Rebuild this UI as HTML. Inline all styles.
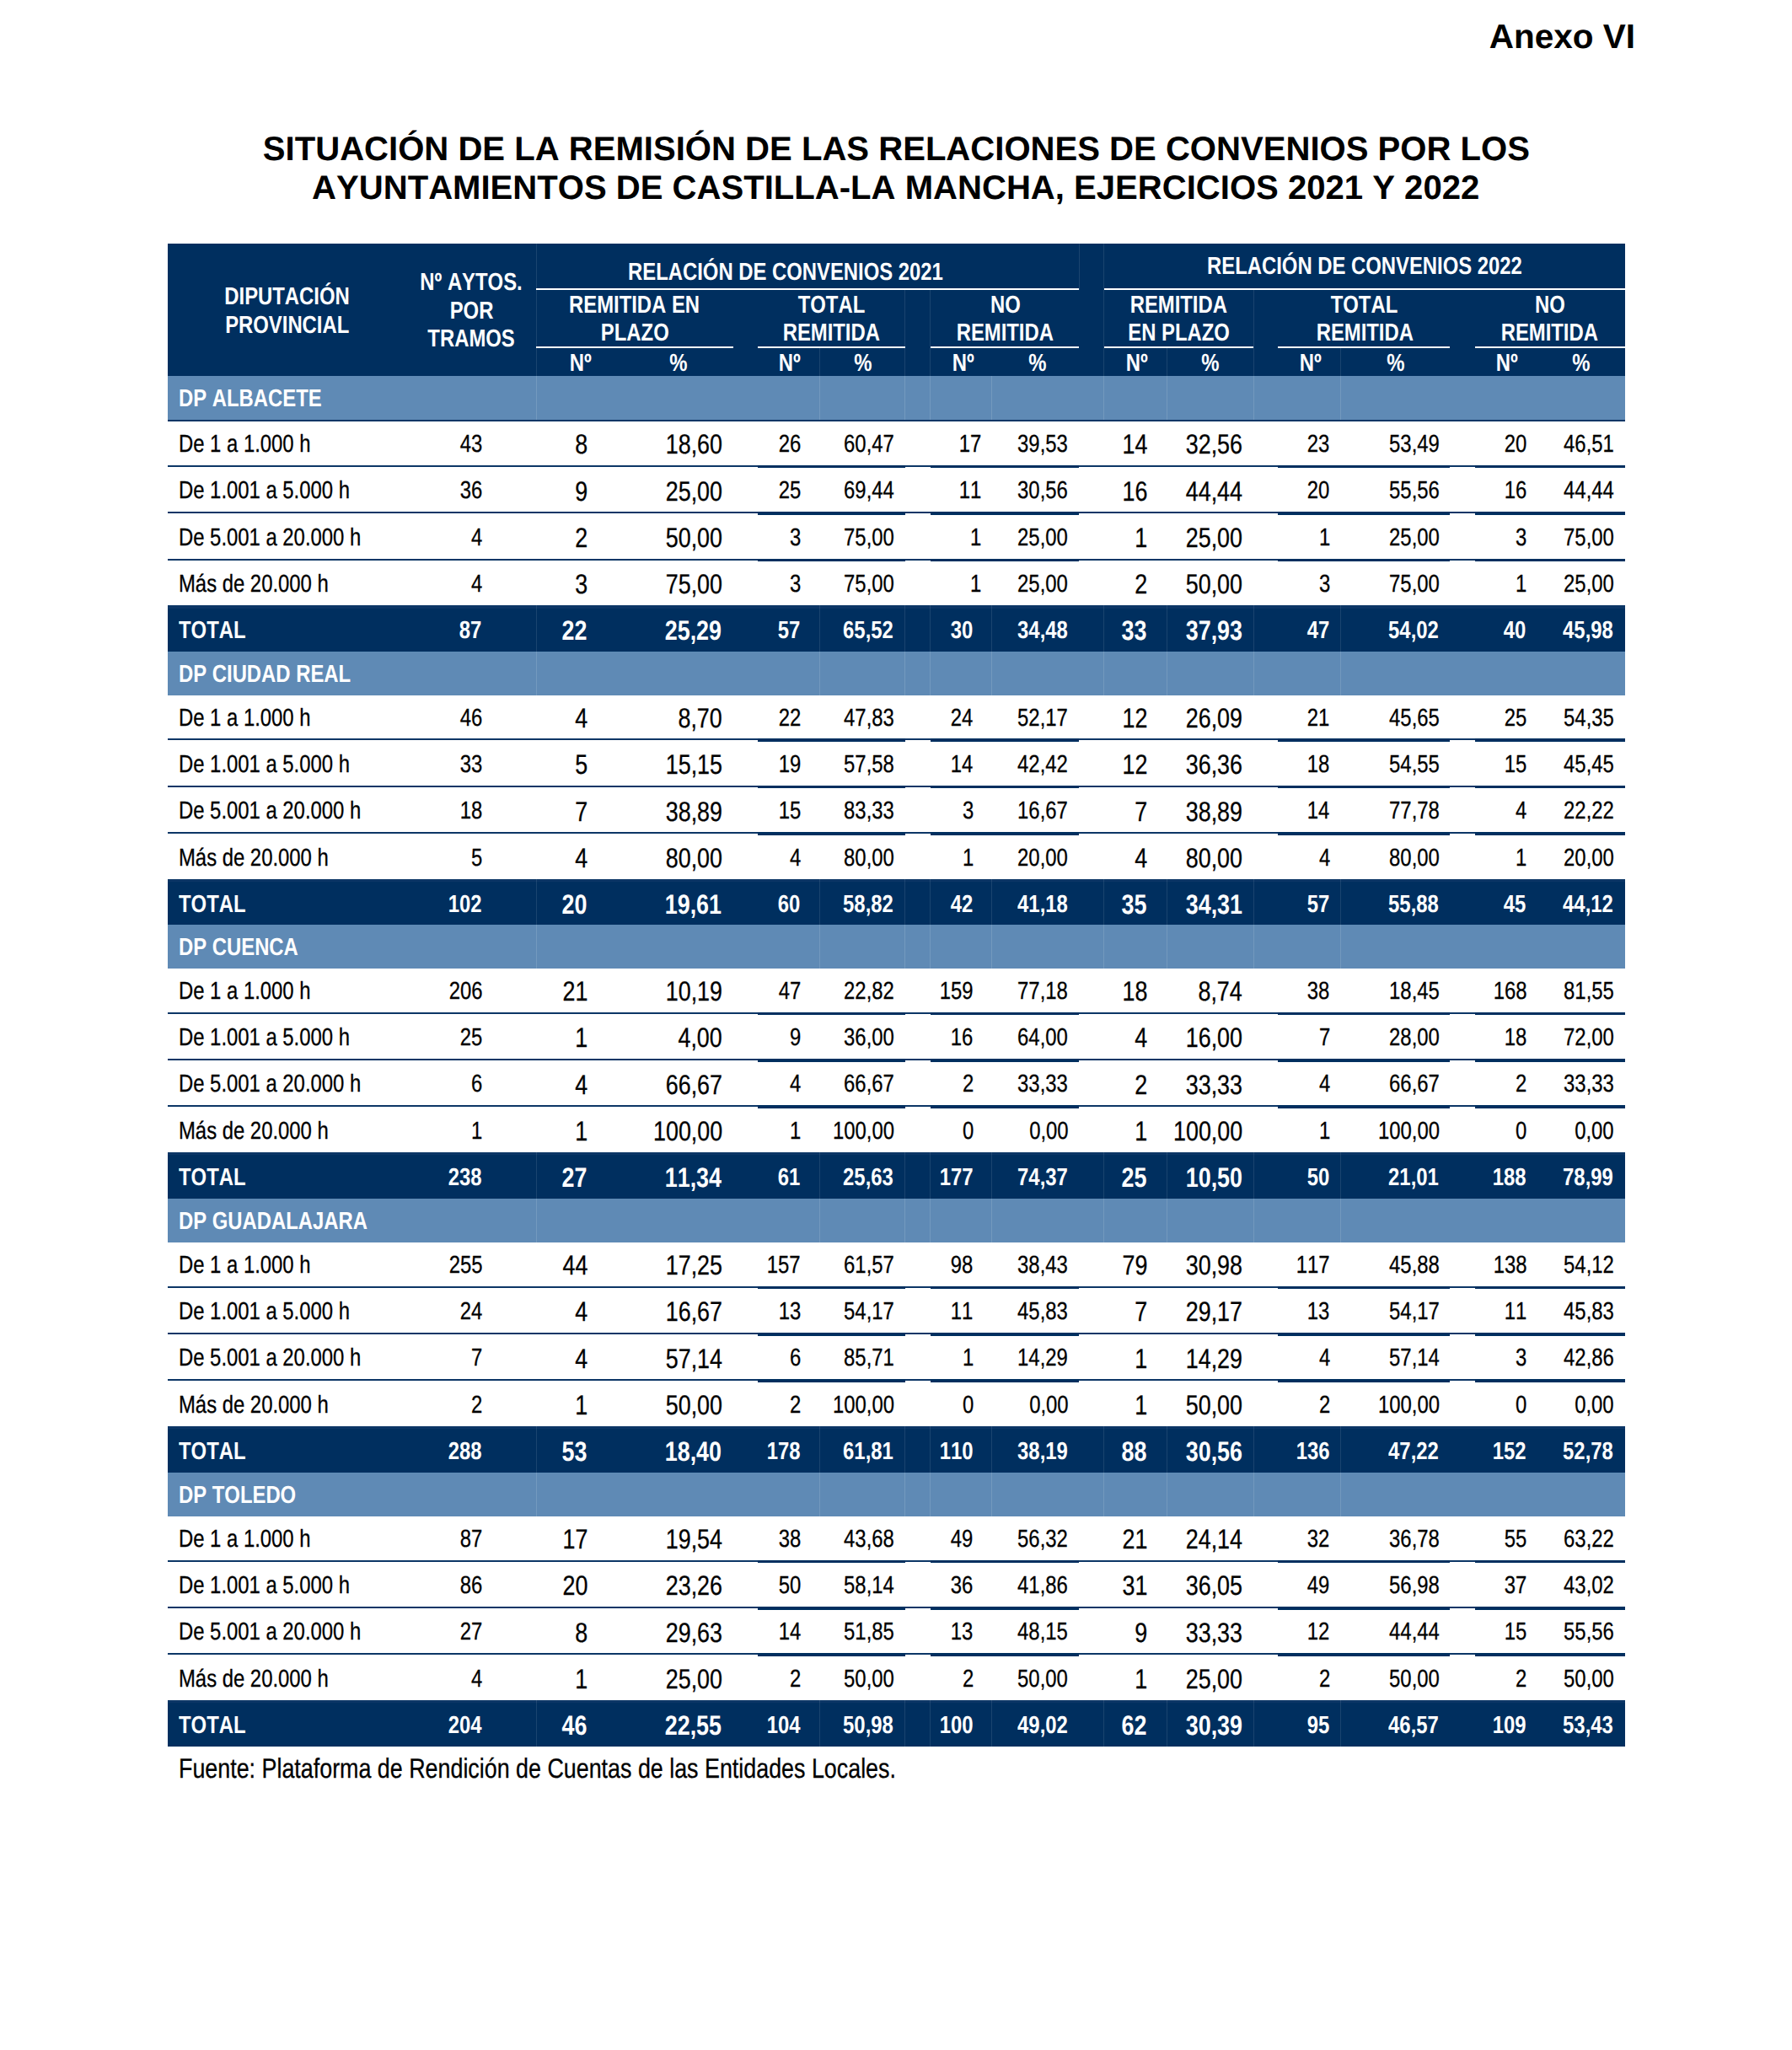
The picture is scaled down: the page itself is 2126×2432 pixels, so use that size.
<!DOCTYPE html>
<html lang="es"><head><meta charset="utf-8"><title>Anexo VI</title><style>
html,body{margin:0;padding:0;background:#fff}
body{font-kerning:none;font-feature-settings:"kern" 0,"liga" 0;text-rendering:geometricPrecision;width:2126px;height:2432px;position:relative;overflow:hidden;font-family:"Liberation Sans",sans-serif}
.r{position:absolute}
.t{position:absolute;width:0;display:flex;white-space:nowrap;line-height:1}
.t span{display:block;flex:none}
.al{justify-content:flex-start}.al span{transform-origin:0 50%}
.ar{justify-content:flex-end}.ar span{transform-origin:100% 50%}
.ac{justify-content:center}.ac span{transform-origin:50% 50%}
.b{font-weight:bold}
.n{-webkit-text-stroke:.3px #000}
</style></head><body>
<div class="t al b" style="left:1766.80px;top:23.12px;font-size:40.5px;color:#000;"><span>Anexo VI</span></div>
<div class="t ac b" style="left:1063.40px;top:157.46px;font-size:40.1px;color:#000;"><span>SITUACIÓN DE LA REMISIÓN DE LAS RELACIONES DE CONVENIOS POR LOS</span></div>
<div class="t ac b" style="left:1062.70px;top:202.96px;font-size:40.1px;color:#000;"><span>AYUNTAMIENTOS DE CASTILLA-LA MANCHA, EJERCICIOS 2021 Y 2022</span></div>
<div class="r" style="left:199.00px;top:289.20px;width:1729.00px;height:156.80px;background:#002f5f;"></div>
<div class="r" style="left:636.40px;top:342.30px;width:644.00px;height:2.00px;background:#fff;"></div>
<div class="r" style="left:1309.60px;top:342.30px;width:618.40px;height:2.00px;background:#fff;"></div>
<div class="r" style="left:636.40px;top:411.40px;width:233.60px;height:2.00px;background:#fff;"></div>
<div class="r" style="left:899.30px;top:411.40px;width:174.40px;height:2.00px;background:#fff;"></div>
<div class="r" style="left:1103.90px;top:411.40px;width:176.50px;height:2.00px;background:#fff;"></div>
<div class="r" style="left:1309.60px;top:411.40px;width:177.70px;height:2.00px;background:#fff;"></div>
<div class="r" style="left:1516.30px;top:411.40px;width:204.20px;height:2.00px;background:#fff;"></div>
<div class="r" style="left:1750.40px;top:411.40px;width:177.60px;height:2.00px;background:#fff;"></div>
<div class="t ac b" style="left:340.30px;top:338.42px;font-size:29.1px;color:#fff;"><span style="transform:scaleX(0.82)">DIPUTACIÓN</span></div>
<div class="t ac b" style="left:340.90px;top:371.72px;font-size:29.1px;color:#fff;"><span style="transform:scaleX(0.82)">PROVINCIAL</span></div>
<div class="t ac b" style="left:559.40px;top:321.42px;font-size:29.1px;color:#fff;"><span style="transform:scaleX(0.82)">Nº AYTOS.</span></div>
<div class="t ac b" style="left:559.50px;top:354.92px;font-size:29.1px;color:#fff;"><span style="transform:scaleX(0.82)">POR</span></div>
<div class="t ac b" style="left:558.90px;top:388.12px;font-size:29.1px;color:#fff;"><span style="transform:scaleX(0.82)">TRAMOS</span></div>
<div class="t ac b" style="left:931.70px;top:308.62px;font-size:29.1px;color:#fff;"><span style="transform:scaleX(0.82)">RELACIÓN DE CONVENIOS 2021</span></div>
<div class="t ac b" style="left:1618.50px;top:302.22px;font-size:29.1px;color:#fff;"><span style="transform:scaleX(0.82)">RELACIÓN DE CONVENIOS 2022</span></div>
<div class="t ac b" style="left:752.70px;top:347.92px;font-size:29.1px;color:#fff;"><span style="transform:scaleX(0.82)">REMITIDA EN</span></div>
<div class="t ac b" style="left:753.40px;top:381.42px;font-size:29.1px;color:#fff;"><span style="transform:scaleX(0.82)">PLAZO</span></div>
<div class="t ac b" style="left:986.70px;top:347.92px;font-size:29.1px;color:#fff;"><span style="transform:scaleX(0.82)">TOTAL</span></div>
<div class="t ac b" style="left:986.50px;top:381.42px;font-size:29.1px;color:#fff;"><span style="transform:scaleX(0.82)">REMITIDA</span></div>
<div class="t ac b" style="left:1192.40px;top:347.92px;font-size:29.1px;color:#fff;"><span style="transform:scaleX(0.82)">NO</span></div>
<div class="t ac b" style="left:1192.60px;top:381.42px;font-size:29.1px;color:#fff;"><span style="transform:scaleX(0.82)">REMITIDA</span></div>
<div class="t ac b" style="left:1398.20px;top:347.92px;font-size:29.1px;color:#fff;"><span style="transform:scaleX(0.82)">REMITIDA</span></div>
<div class="t ac b" style="left:1398.90px;top:381.42px;font-size:29.1px;color:#fff;"><span style="transform:scaleX(0.82)">EN PLAZO</span></div>
<div class="t ac b" style="left:1618.90px;top:347.92px;font-size:29.1px;color:#fff;"><span style="transform:scaleX(0.82)">TOTAL</span></div>
<div class="t ac b" style="left:1618.90px;top:381.42px;font-size:29.1px;color:#fff;"><span style="transform:scaleX(0.82)">REMITIDA</span></div>
<div class="t ac b" style="left:1838.70px;top:347.92px;font-size:29.1px;color:#fff;"><span style="transform:scaleX(0.82)">NO</span></div>
<div class="t ac b" style="left:1838.50px;top:381.42px;font-size:29.1px;color:#fff;"><span style="transform:scaleX(0.82)">REMITIDA</span></div>
<div class="t ac b" style="left:689.00px;top:416.62px;font-size:29.1px;color:#fff;"><span style="transform:scaleX(0.82)">Nº</span></div>
<div class="t ac b" style="left:937.00px;top:416.62px;font-size:29.1px;color:#fff;"><span style="transform:scaleX(0.82)">Nº</span></div>
<div class="t ac b" style="left:1142.80px;top:416.62px;font-size:29.1px;color:#fff;"><span style="transform:scaleX(0.82)">Nº</span></div>
<div class="t ac b" style="left:1348.40px;top:416.62px;font-size:29.1px;color:#fff;"><span style="transform:scaleX(0.82)">Nº</span></div>
<div class="t ac b" style="left:1554.50px;top:416.62px;font-size:29.1px;color:#fff;"><span style="transform:scaleX(0.82)">Nº</span></div>
<div class="t ac b" style="left:1787.70px;top:416.62px;font-size:29.1px;color:#fff;"><span style="transform:scaleX(0.82)">Nº</span></div>
<div class="t ac b" style="left:805.20px;top:416.62px;font-size:29.1px;color:#fff;"><span style="transform:scaleX(0.82)">%</span></div>
<div class="t ac b" style="left:1023.50px;top:416.62px;font-size:29.1px;color:#fff;"><span style="transform:scaleX(0.82)">%</span></div>
<div class="t ac b" style="left:1230.50px;top:416.62px;font-size:29.1px;color:#fff;"><span style="transform:scaleX(0.82)">%</span></div>
<div class="t ac b" style="left:1436.20px;top:416.62px;font-size:29.1px;color:#fff;"><span style="transform:scaleX(0.82)">%</span></div>
<div class="t ac b" style="left:1655.50px;top:416.62px;font-size:29.1px;color:#fff;"><span style="transform:scaleX(0.82)">%</span></div>
<div class="t ac b" style="left:1875.50px;top:416.62px;font-size:29.1px;color:#fff;"><span style="transform:scaleX(0.82)">%</span></div>
<div class="r" style="left:199.00px;top:446.00px;width:1729.00px;height:51.80px;background:#5f8ab5;"></div>
<div class="r" style="left:199.00px;top:498.20px;width:1729.00px;height:2.10px;background:#0c3666;"></div>
<div class="t al b" style="left:211.60px;top:459.22px;font-size:29.1px;color:#fff;"><span style="transform:scaleX(0.82)">DP ALBACETE</span></div>
<div class="t al n" style="left:211.60px;top:512.92px;font-size:29.1px;color:#000;"><span style="transform:scaleX(0.82)">De 1 a 1.000 h</span></div>
<div class="t ar n" style="left:572.40px;top:512.92px;font-size:29.1px;color:#000;"><span style="transform:scaleX(0.82)">43</span></div>
<div class="t ar n" style="left:697.32px;top:511.13px;font-size:32.75px;color:#000;"><span style="transform:scaleX(0.82)">8</span></div>
<div class="t ar n" style="left:856.72px;top:511.13px;font-size:32.75px;color:#000;"><span style="transform:scaleX(0.82)">18,60</span></div>
<div class="t ar n" style="left:949.90px;top:512.92px;font-size:29.1px;color:#000;"><span style="transform:scaleX(0.82)">26</span></div>
<div class="t ar n" style="left:1060.80px;top:512.92px;font-size:29.1px;color:#000;"><span style="transform:scaleX(0.82)">60,47</span></div>
<div class="t ar n" style="left:1164.20px;top:512.92px;font-size:29.1px;color:#000;"><span style="transform:scaleX(0.82)">17</span></div>
<div class="t ar n" style="left:1267.20px;top:512.92px;font-size:29.1px;color:#000;"><span style="transform:scaleX(0.82)">39,53</span></div>
<div class="t ar n" style="left:1361.42px;top:511.13px;font-size:32.75px;color:#000;"><span style="transform:scaleX(0.82)">14</span></div>
<div class="t ar n" style="left:1474.12px;top:511.13px;font-size:32.75px;color:#000;"><span style="transform:scaleX(0.82)">32,56</span></div>
<div class="t ar n" style="left:1577.80px;top:512.92px;font-size:29.1px;color:#000;"><span style="transform:scaleX(0.82)">23</span></div>
<div class="t ar n" style="left:1707.60px;top:512.92px;font-size:29.1px;color:#000;"><span style="transform:scaleX(0.82)">53,49</span></div>
<div class="t ar n" style="left:1811.40px;top:512.92px;font-size:29.1px;color:#000;"><span style="transform:scaleX(0.82)">20</span></div>
<div class="t ar n" style="left:1914.40px;top:512.92px;font-size:29.1px;color:#000;"><span style="transform:scaleX(0.82)">46,51</span></div>
<div class="r" style="left:199.00px;top:551.80px;width:1729.00px;height:2.10px;background:#0c3666;"></div>
<div class="r" style="left:899.30px;top:551.80px;width:174.40px;height:3.70px;background:#002f5f;"></div>
<div class="r" style="left:1103.90px;top:551.80px;width:176.50px;height:3.70px;background:#002f5f;"></div>
<div class="r" style="left:1516.30px;top:551.80px;width:204.20px;height:3.70px;background:#002f5f;"></div>
<div class="r" style="left:1750.40px;top:551.80px;width:177.60px;height:3.70px;background:#002f5f;"></div>
<div class="t al n" style="left:211.60px;top:568.32px;font-size:29.1px;color:#000;"><span style="transform:scaleX(0.82)">De 1.001 a 5.000 h</span></div>
<div class="t ar n" style="left:572.40px;top:568.32px;font-size:29.1px;color:#000;"><span style="transform:scaleX(0.82)">36</span></div>
<div class="t ar n" style="left:697.32px;top:566.53px;font-size:32.75px;color:#000;"><span style="transform:scaleX(0.82)">9</span></div>
<div class="t ar n" style="left:856.72px;top:566.53px;font-size:32.75px;color:#000;"><span style="transform:scaleX(0.82)">25,00</span></div>
<div class="t ar n" style="left:949.90px;top:568.32px;font-size:29.1px;color:#000;"><span style="transform:scaleX(0.82)">25</span></div>
<div class="t ar n" style="left:1060.80px;top:568.32px;font-size:29.1px;color:#000;"><span style="transform:scaleX(0.82)">69,44</span></div>
<div class="t ar n" style="left:1164.20px;top:568.32px;font-size:29.1px;color:#000;"><span style="transform:scaleX(0.82)">11</span></div>
<div class="t ar n" style="left:1267.20px;top:568.32px;font-size:29.1px;color:#000;"><span style="transform:scaleX(0.82)">30,56</span></div>
<div class="t ar n" style="left:1361.42px;top:566.53px;font-size:32.75px;color:#000;"><span style="transform:scaleX(0.82)">16</span></div>
<div class="t ar n" style="left:1474.12px;top:566.53px;font-size:32.75px;color:#000;"><span style="transform:scaleX(0.82)">44,44</span></div>
<div class="t ar n" style="left:1577.80px;top:568.32px;font-size:29.1px;color:#000;"><span style="transform:scaleX(0.82)">20</span></div>
<div class="t ar n" style="left:1707.60px;top:568.32px;font-size:29.1px;color:#000;"><span style="transform:scaleX(0.82)">55,56</span></div>
<div class="t ar n" style="left:1811.40px;top:568.32px;font-size:29.1px;color:#000;"><span style="transform:scaleX(0.82)">16</span></div>
<div class="t ar n" style="left:1914.40px;top:568.32px;font-size:29.1px;color:#000;"><span style="transform:scaleX(0.82)">44,44</span></div>
<div class="r" style="left:199.00px;top:607.20px;width:1729.00px;height:2.10px;background:#0c3666;"></div>
<div class="r" style="left:899.30px;top:607.20px;width:174.40px;height:3.70px;background:#002f5f;"></div>
<div class="r" style="left:1103.90px;top:607.20px;width:176.50px;height:3.70px;background:#002f5f;"></div>
<div class="r" style="left:1516.30px;top:607.20px;width:204.20px;height:3.70px;background:#002f5f;"></div>
<div class="r" style="left:1750.40px;top:607.20px;width:177.60px;height:3.70px;background:#002f5f;"></div>
<div class="t al n" style="left:211.60px;top:623.72px;font-size:29.1px;color:#000;"><span style="transform:scaleX(0.82)">De 5.001 a 20.000 h</span></div>
<div class="t ar n" style="left:572.40px;top:623.72px;font-size:29.1px;color:#000;"><span style="transform:scaleX(0.82)">4</span></div>
<div class="t ar n" style="left:697.32px;top:621.93px;font-size:32.75px;color:#000;"><span style="transform:scaleX(0.82)">2</span></div>
<div class="t ar n" style="left:856.72px;top:621.93px;font-size:32.75px;color:#000;"><span style="transform:scaleX(0.82)">50,00</span></div>
<div class="t ar n" style="left:949.90px;top:623.72px;font-size:29.1px;color:#000;"><span style="transform:scaleX(0.82)">3</span></div>
<div class="t ar n" style="left:1060.80px;top:623.72px;font-size:29.1px;color:#000;"><span style="transform:scaleX(0.82)">75,00</span></div>
<div class="t ar n" style="left:1164.20px;top:623.72px;font-size:29.1px;color:#000;"><span style="transform:scaleX(0.82)">1</span></div>
<div class="t ar n" style="left:1267.20px;top:623.72px;font-size:29.1px;color:#000;"><span style="transform:scaleX(0.82)">25,00</span></div>
<div class="t ar n" style="left:1361.42px;top:621.93px;font-size:32.75px;color:#000;"><span style="transform:scaleX(0.82)">1</span></div>
<div class="t ar n" style="left:1474.12px;top:621.93px;font-size:32.75px;color:#000;"><span style="transform:scaleX(0.82)">25,00</span></div>
<div class="t ar n" style="left:1577.80px;top:623.72px;font-size:29.1px;color:#000;"><span style="transform:scaleX(0.82)">1</span></div>
<div class="t ar n" style="left:1707.60px;top:623.72px;font-size:29.1px;color:#000;"><span style="transform:scaleX(0.82)">25,00</span></div>
<div class="t ar n" style="left:1811.40px;top:623.72px;font-size:29.1px;color:#000;"><span style="transform:scaleX(0.82)">3</span></div>
<div class="t ar n" style="left:1914.40px;top:623.72px;font-size:29.1px;color:#000;"><span style="transform:scaleX(0.82)">75,00</span></div>
<div class="r" style="left:199.00px;top:662.60px;width:1729.00px;height:2.10px;background:#0c3666;"></div>
<div class="r" style="left:899.30px;top:662.60px;width:174.40px;height:3.70px;background:#002f5f;"></div>
<div class="r" style="left:1103.90px;top:662.60px;width:176.50px;height:3.70px;background:#002f5f;"></div>
<div class="r" style="left:1516.30px;top:662.60px;width:204.20px;height:3.70px;background:#002f5f;"></div>
<div class="r" style="left:1750.40px;top:662.60px;width:177.60px;height:3.70px;background:#002f5f;"></div>
<div class="t al n" style="left:211.60px;top:679.12px;font-size:29.1px;color:#000;"><span style="transform:scaleX(0.82)">Más de 20.000 h</span></div>
<div class="t ar n" style="left:572.40px;top:679.12px;font-size:29.1px;color:#000;"><span style="transform:scaleX(0.82)">4</span></div>
<div class="t ar n" style="left:697.32px;top:677.33px;font-size:32.75px;color:#000;"><span style="transform:scaleX(0.82)">3</span></div>
<div class="t ar n" style="left:856.72px;top:677.33px;font-size:32.75px;color:#000;"><span style="transform:scaleX(0.82)">75,00</span></div>
<div class="t ar n" style="left:949.90px;top:679.12px;font-size:29.1px;color:#000;"><span style="transform:scaleX(0.82)">3</span></div>
<div class="t ar n" style="left:1060.80px;top:679.12px;font-size:29.1px;color:#000;"><span style="transform:scaleX(0.82)">75,00</span></div>
<div class="t ar n" style="left:1164.20px;top:679.12px;font-size:29.1px;color:#000;"><span style="transform:scaleX(0.82)">1</span></div>
<div class="t ar n" style="left:1267.20px;top:679.12px;font-size:29.1px;color:#000;"><span style="transform:scaleX(0.82)">25,00</span></div>
<div class="t ar n" style="left:1361.42px;top:677.33px;font-size:32.75px;color:#000;"><span style="transform:scaleX(0.82)">2</span></div>
<div class="t ar n" style="left:1474.12px;top:677.33px;font-size:32.75px;color:#000;"><span style="transform:scaleX(0.82)">50,00</span></div>
<div class="t ar n" style="left:1577.80px;top:679.12px;font-size:29.1px;color:#000;"><span style="transform:scaleX(0.82)">3</span></div>
<div class="t ar n" style="left:1707.60px;top:679.12px;font-size:29.1px;color:#000;"><span style="transform:scaleX(0.82)">75,00</span></div>
<div class="t ar n" style="left:1811.40px;top:679.12px;font-size:29.1px;color:#000;"><span style="transform:scaleX(0.82)">1</span></div>
<div class="t ar n" style="left:1914.40px;top:679.12px;font-size:29.1px;color:#000;"><span style="transform:scaleX(0.82)">25,00</span></div>
<div class="r" style="left:199.00px;top:718.00px;width:1729.00px;height:54.90px;background:#002f5f;"></div>
<div class="r" style="left:199.00px;top:718.00px;width:1729.00px;height:3.50px;background:#0c3666;"></div>
<div class="t al b" style="left:211.60px;top:734.22px;font-size:29.1px;color:#fff;"><span style="transform:scaleX(0.82)">TOTAL</span></div>
<div class="t ar b" style="left:571.80px;top:734.22px;font-size:29.1px;color:#fff;"><span style="transform:scaleX(0.82)">87</span></div>
<div class="t ar b" style="left:696.70px;top:732.33px;font-size:32.75px;color:#fff;"><span style="transform:scaleX(0.82)">22</span></div>
<div class="t ar b" style="left:856.10px;top:732.33px;font-size:32.75px;color:#fff;"><span style="transform:scaleX(0.82)">25,29</span></div>
<div class="t ar b" style="left:949.30px;top:734.22px;font-size:29.1px;color:#fff;"><span style="transform:scaleX(0.82)">57</span></div>
<div class="t ar b" style="left:1060.20px;top:734.22px;font-size:29.1px;color:#fff;"><span style="transform:scaleX(0.82)">65,52</span></div>
<div class="t ar b" style="left:1154.20px;top:734.22px;font-size:29.1px;color:#fff;"><span style="transform:scaleX(0.82)">30</span></div>
<div class="t ar b" style="left:1266.60px;top:734.22px;font-size:29.1px;color:#fff;"><span style="transform:scaleX(0.82)">34,48</span></div>
<div class="t ar b" style="left:1360.80px;top:732.33px;font-size:32.75px;color:#fff;"><span style="transform:scaleX(0.82)">33</span></div>
<div class="t ar b" style="left:1473.50px;top:732.33px;font-size:32.75px;color:#fff;"><span style="transform:scaleX(0.82)">37,93</span></div>
<div class="t ar b" style="left:1577.20px;top:734.22px;font-size:29.1px;color:#fff;"><span style="transform:scaleX(0.82)">47</span></div>
<div class="t ar b" style="left:1707.00px;top:734.22px;font-size:29.1px;color:#fff;"><span style="transform:scaleX(0.82)">54,02</span></div>
<div class="t ar b" style="left:1810.80px;top:734.22px;font-size:29.1px;color:#fff;"><span style="transform:scaleX(0.82)">40</span></div>
<div class="t ar b" style="left:1913.80px;top:734.22px;font-size:29.1px;color:#fff;"><span style="transform:scaleX(0.82)">45,98</span></div>
<div class="r" style="left:635.90px;top:446.00px;width:1.00px;height:51.80px;background:rgba(255,255,255,.13);"></div>
<div class="r" style="left:635.90px;top:718.00px;width:1.00px;height:54.90px;background:rgba(255,255,255,.10);"></div>
<div class="r" style="left:971.90px;top:446.00px;width:1.00px;height:51.80px;background:rgba(255,255,255,.13);"></div>
<div class="r" style="left:971.90px;top:718.00px;width:1.00px;height:54.90px;background:rgba(255,255,255,.10);"></div>
<div class="r" style="left:1073.20px;top:446.00px;width:1.00px;height:51.80px;background:rgba(255,255,255,.13);"></div>
<div class="r" style="left:1073.20px;top:718.00px;width:1.00px;height:54.90px;background:rgba(255,255,255,.10);"></div>
<div class="r" style="left:1103.40px;top:446.00px;width:1.00px;height:51.80px;background:rgba(255,255,255,.13);"></div>
<div class="r" style="left:1103.40px;top:718.00px;width:1.00px;height:54.90px;background:rgba(255,255,255,.10);"></div>
<div class="r" style="left:1176.30px;top:446.00px;width:1.00px;height:51.80px;background:rgba(255,255,255,.13);"></div>
<div class="r" style="left:1176.30px;top:718.00px;width:1.00px;height:54.90px;background:rgba(255,255,255,.10);"></div>
<div class="r" style="left:1309.10px;top:446.00px;width:1.00px;height:51.80px;background:rgba(255,255,255,.13);"></div>
<div class="r" style="left:1309.10px;top:718.00px;width:1.00px;height:54.90px;background:rgba(255,255,255,.10);"></div>
<div class="r" style="left:1383.80px;top:446.00px;width:1.00px;height:51.80px;background:rgba(255,255,255,.13);"></div>
<div class="r" style="left:1383.80px;top:718.00px;width:1.00px;height:54.90px;background:rgba(255,255,255,.10);"></div>
<div class="r" style="left:1487.10px;top:446.00px;width:1.00px;height:51.80px;background:rgba(255,255,255,.13);"></div>
<div class="r" style="left:1487.10px;top:718.00px;width:1.00px;height:54.90px;background:rgba(255,255,255,.10);"></div>
<div class="r" style="left:1590.40px;top:446.00px;width:1.00px;height:51.80px;background:rgba(255,255,255,.13);"></div>
<div class="r" style="left:1590.40px;top:718.00px;width:1.00px;height:54.90px;background:rgba(255,255,255,.10);"></div>
<div class="r" style="left:199.00px;top:772.90px;width:1729.00px;height:51.80px;background:#5f8ab5;"></div>
<div class="t al b" style="left:211.60px;top:786.12px;font-size:29.1px;color:#fff;"><span style="transform:scaleX(0.82)">DP CIUDAD REAL</span></div>
<div class="t al n" style="left:211.60px;top:837.52px;font-size:29.1px;color:#000;"><span style="transform:scaleX(0.82)">De 1 a 1.000 h</span></div>
<div class="t ar n" style="left:572.40px;top:837.52px;font-size:29.1px;color:#000;"><span style="transform:scaleX(0.82)">46</span></div>
<div class="t ar n" style="left:697.32px;top:835.73px;font-size:32.75px;color:#000;"><span style="transform:scaleX(0.82)">4</span></div>
<div class="t ar n" style="left:856.72px;top:835.73px;font-size:32.75px;color:#000;"><span style="transform:scaleX(0.82)">8,70</span></div>
<div class="t ar n" style="left:949.90px;top:837.52px;font-size:29.1px;color:#000;"><span style="transform:scaleX(0.82)">22</span></div>
<div class="t ar n" style="left:1060.80px;top:837.52px;font-size:29.1px;color:#000;"><span style="transform:scaleX(0.82)">47,83</span></div>
<div class="t ar n" style="left:1154.80px;top:837.52px;font-size:29.1px;color:#000;"><span style="transform:scaleX(0.82)">24</span></div>
<div class="t ar n" style="left:1267.20px;top:837.52px;font-size:29.1px;color:#000;"><span style="transform:scaleX(0.82)">52,17</span></div>
<div class="t ar n" style="left:1361.42px;top:835.73px;font-size:32.75px;color:#000;"><span style="transform:scaleX(0.82)">12</span></div>
<div class="t ar n" style="left:1474.12px;top:835.73px;font-size:32.75px;color:#000;"><span style="transform:scaleX(0.82)">26,09</span></div>
<div class="t ar n" style="left:1577.80px;top:837.52px;font-size:29.1px;color:#000;"><span style="transform:scaleX(0.82)">21</span></div>
<div class="t ar n" style="left:1707.60px;top:837.52px;font-size:29.1px;color:#000;"><span style="transform:scaleX(0.82)">45,65</span></div>
<div class="t ar n" style="left:1811.40px;top:837.52px;font-size:29.1px;color:#000;"><span style="transform:scaleX(0.82)">25</span></div>
<div class="t ar n" style="left:1914.40px;top:837.52px;font-size:29.1px;color:#000;"><span style="transform:scaleX(0.82)">54,35</span></div>
<div class="r" style="left:199.00px;top:876.40px;width:1729.00px;height:2.10px;background:#0c3666;"></div>
<div class="r" style="left:899.30px;top:876.40px;width:174.40px;height:3.70px;background:#002f5f;"></div>
<div class="r" style="left:1103.90px;top:876.40px;width:176.50px;height:3.70px;background:#002f5f;"></div>
<div class="r" style="left:1516.30px;top:876.40px;width:204.20px;height:3.70px;background:#002f5f;"></div>
<div class="r" style="left:1750.40px;top:876.40px;width:177.60px;height:3.70px;background:#002f5f;"></div>
<div class="t al n" style="left:211.60px;top:892.92px;font-size:29.1px;color:#000;"><span style="transform:scaleX(0.82)">De 1.001 a 5.000 h</span></div>
<div class="t ar n" style="left:572.40px;top:892.92px;font-size:29.1px;color:#000;"><span style="transform:scaleX(0.82)">33</span></div>
<div class="t ar n" style="left:697.32px;top:891.13px;font-size:32.75px;color:#000;"><span style="transform:scaleX(0.82)">5</span></div>
<div class="t ar n" style="left:856.72px;top:891.13px;font-size:32.75px;color:#000;"><span style="transform:scaleX(0.82)">15,15</span></div>
<div class="t ar n" style="left:949.90px;top:892.92px;font-size:29.1px;color:#000;"><span style="transform:scaleX(0.82)">19</span></div>
<div class="t ar n" style="left:1060.80px;top:892.92px;font-size:29.1px;color:#000;"><span style="transform:scaleX(0.82)">57,58</span></div>
<div class="t ar n" style="left:1154.80px;top:892.92px;font-size:29.1px;color:#000;"><span style="transform:scaleX(0.82)">14</span></div>
<div class="t ar n" style="left:1267.20px;top:892.92px;font-size:29.1px;color:#000;"><span style="transform:scaleX(0.82)">42,42</span></div>
<div class="t ar n" style="left:1361.42px;top:891.13px;font-size:32.75px;color:#000;"><span style="transform:scaleX(0.82)">12</span></div>
<div class="t ar n" style="left:1474.12px;top:891.13px;font-size:32.75px;color:#000;"><span style="transform:scaleX(0.82)">36,36</span></div>
<div class="t ar n" style="left:1577.80px;top:892.92px;font-size:29.1px;color:#000;"><span style="transform:scaleX(0.82)">18</span></div>
<div class="t ar n" style="left:1707.60px;top:892.92px;font-size:29.1px;color:#000;"><span style="transform:scaleX(0.82)">54,55</span></div>
<div class="t ar n" style="left:1811.40px;top:892.92px;font-size:29.1px;color:#000;"><span style="transform:scaleX(0.82)">15</span></div>
<div class="t ar n" style="left:1914.40px;top:892.92px;font-size:29.1px;color:#000;"><span style="transform:scaleX(0.82)">45,45</span></div>
<div class="r" style="left:199.00px;top:931.80px;width:1729.00px;height:2.10px;background:#0c3666;"></div>
<div class="r" style="left:899.30px;top:931.80px;width:174.40px;height:3.70px;background:#002f5f;"></div>
<div class="r" style="left:1103.90px;top:931.80px;width:176.50px;height:3.70px;background:#002f5f;"></div>
<div class="r" style="left:1516.30px;top:931.80px;width:204.20px;height:3.70px;background:#002f5f;"></div>
<div class="r" style="left:1750.40px;top:931.80px;width:177.60px;height:3.70px;background:#002f5f;"></div>
<div class="t al n" style="left:211.60px;top:948.32px;font-size:29.1px;color:#000;"><span style="transform:scaleX(0.82)">De 5.001 a 20.000 h</span></div>
<div class="t ar n" style="left:572.40px;top:948.32px;font-size:29.1px;color:#000;"><span style="transform:scaleX(0.82)">18</span></div>
<div class="t ar n" style="left:697.32px;top:946.53px;font-size:32.75px;color:#000;"><span style="transform:scaleX(0.82)">7</span></div>
<div class="t ar n" style="left:856.72px;top:946.53px;font-size:32.75px;color:#000;"><span style="transform:scaleX(0.82)">38,89</span></div>
<div class="t ar n" style="left:949.90px;top:948.32px;font-size:29.1px;color:#000;"><span style="transform:scaleX(0.82)">15</span></div>
<div class="t ar n" style="left:1060.80px;top:948.32px;font-size:29.1px;color:#000;"><span style="transform:scaleX(0.82)">83,33</span></div>
<div class="t ar n" style="left:1154.80px;top:948.32px;font-size:29.1px;color:#000;"><span style="transform:scaleX(0.82)">3</span></div>
<div class="t ar n" style="left:1267.20px;top:948.32px;font-size:29.1px;color:#000;"><span style="transform:scaleX(0.82)">16,67</span></div>
<div class="t ar n" style="left:1361.42px;top:946.53px;font-size:32.75px;color:#000;"><span style="transform:scaleX(0.82)">7</span></div>
<div class="t ar n" style="left:1474.12px;top:946.53px;font-size:32.75px;color:#000;"><span style="transform:scaleX(0.82)">38,89</span></div>
<div class="t ar n" style="left:1577.80px;top:948.32px;font-size:29.1px;color:#000;"><span style="transform:scaleX(0.82)">14</span></div>
<div class="t ar n" style="left:1707.60px;top:948.32px;font-size:29.1px;color:#000;"><span style="transform:scaleX(0.82)">77,78</span></div>
<div class="t ar n" style="left:1811.40px;top:948.32px;font-size:29.1px;color:#000;"><span style="transform:scaleX(0.82)">4</span></div>
<div class="t ar n" style="left:1914.40px;top:948.32px;font-size:29.1px;color:#000;"><span style="transform:scaleX(0.82)">22,22</span></div>
<div class="r" style="left:199.00px;top:987.20px;width:1729.00px;height:2.10px;background:#0c3666;"></div>
<div class="r" style="left:899.30px;top:987.20px;width:174.40px;height:3.70px;background:#002f5f;"></div>
<div class="r" style="left:1103.90px;top:987.20px;width:176.50px;height:3.70px;background:#002f5f;"></div>
<div class="r" style="left:1516.30px;top:987.20px;width:204.20px;height:3.70px;background:#002f5f;"></div>
<div class="r" style="left:1750.40px;top:987.20px;width:177.60px;height:3.70px;background:#002f5f;"></div>
<div class="t al n" style="left:211.60px;top:1003.72px;font-size:29.1px;color:#000;"><span style="transform:scaleX(0.82)">Más de 20.000 h</span></div>
<div class="t ar n" style="left:572.40px;top:1003.72px;font-size:29.1px;color:#000;"><span style="transform:scaleX(0.82)">5</span></div>
<div class="t ar n" style="left:697.32px;top:1001.93px;font-size:32.75px;color:#000;"><span style="transform:scaleX(0.82)">4</span></div>
<div class="t ar n" style="left:856.72px;top:1001.93px;font-size:32.75px;color:#000;"><span style="transform:scaleX(0.82)">80,00</span></div>
<div class="t ar n" style="left:949.90px;top:1003.72px;font-size:29.1px;color:#000;"><span style="transform:scaleX(0.82)">4</span></div>
<div class="t ar n" style="left:1060.80px;top:1003.72px;font-size:29.1px;color:#000;"><span style="transform:scaleX(0.82)">80,00</span></div>
<div class="t ar n" style="left:1154.80px;top:1003.72px;font-size:29.1px;color:#000;"><span style="transform:scaleX(0.82)">1</span></div>
<div class="t ar n" style="left:1267.20px;top:1003.72px;font-size:29.1px;color:#000;"><span style="transform:scaleX(0.82)">20,00</span></div>
<div class="t ar n" style="left:1361.42px;top:1001.93px;font-size:32.75px;color:#000;"><span style="transform:scaleX(0.82)">4</span></div>
<div class="t ar n" style="left:1474.12px;top:1001.93px;font-size:32.75px;color:#000;"><span style="transform:scaleX(0.82)">80,00</span></div>
<div class="t ar n" style="left:1577.80px;top:1003.72px;font-size:29.1px;color:#000;"><span style="transform:scaleX(0.82)">4</span></div>
<div class="t ar n" style="left:1707.60px;top:1003.72px;font-size:29.1px;color:#000;"><span style="transform:scaleX(0.82)">80,00</span></div>
<div class="t ar n" style="left:1811.40px;top:1003.72px;font-size:29.1px;color:#000;"><span style="transform:scaleX(0.82)">1</span></div>
<div class="t ar n" style="left:1914.40px;top:1003.72px;font-size:29.1px;color:#000;"><span style="transform:scaleX(0.82)">20,00</span></div>
<div class="r" style="left:199.00px;top:1042.60px;width:1729.00px;height:54.40px;background:#002f5f;"></div>
<div class="r" style="left:199.00px;top:1042.60px;width:1729.00px;height:3.50px;background:#0c3666;"></div>
<div class="t al b" style="left:211.60px;top:1058.82px;font-size:29.1px;color:#fff;"><span style="transform:scaleX(0.82)">TOTAL</span></div>
<div class="t ar b" style="left:571.80px;top:1058.82px;font-size:29.1px;color:#fff;"><span style="transform:scaleX(0.82)">102</span></div>
<div class="t ar b" style="left:696.70px;top:1056.93px;font-size:32.75px;color:#fff;"><span style="transform:scaleX(0.82)">20</span></div>
<div class="t ar b" style="left:856.10px;top:1056.93px;font-size:32.75px;color:#fff;"><span style="transform:scaleX(0.82)">19,61</span></div>
<div class="t ar b" style="left:949.30px;top:1058.82px;font-size:29.1px;color:#fff;"><span style="transform:scaleX(0.82)">60</span></div>
<div class="t ar b" style="left:1060.20px;top:1058.82px;font-size:29.1px;color:#fff;"><span style="transform:scaleX(0.82)">58,82</span></div>
<div class="t ar b" style="left:1154.20px;top:1058.82px;font-size:29.1px;color:#fff;"><span style="transform:scaleX(0.82)">42</span></div>
<div class="t ar b" style="left:1266.60px;top:1058.82px;font-size:29.1px;color:#fff;"><span style="transform:scaleX(0.82)">41,18</span></div>
<div class="t ar b" style="left:1360.80px;top:1056.93px;font-size:32.75px;color:#fff;"><span style="transform:scaleX(0.82)">35</span></div>
<div class="t ar b" style="left:1473.50px;top:1056.93px;font-size:32.75px;color:#fff;"><span style="transform:scaleX(0.82)">34,31</span></div>
<div class="t ar b" style="left:1577.20px;top:1058.82px;font-size:29.1px;color:#fff;"><span style="transform:scaleX(0.82)">57</span></div>
<div class="t ar b" style="left:1707.00px;top:1058.82px;font-size:29.1px;color:#fff;"><span style="transform:scaleX(0.82)">55,88</span></div>
<div class="t ar b" style="left:1810.80px;top:1058.82px;font-size:29.1px;color:#fff;"><span style="transform:scaleX(0.82)">45</span></div>
<div class="t ar b" style="left:1913.80px;top:1058.82px;font-size:29.1px;color:#fff;"><span style="transform:scaleX(0.82)">44,12</span></div>
<div class="r" style="left:635.90px;top:772.90px;width:1.00px;height:51.80px;background:rgba(255,255,255,.13);"></div>
<div class="r" style="left:635.90px;top:1042.60px;width:1.00px;height:54.40px;background:rgba(255,255,255,.10);"></div>
<div class="r" style="left:971.90px;top:772.90px;width:1.00px;height:51.80px;background:rgba(255,255,255,.13);"></div>
<div class="r" style="left:971.90px;top:1042.60px;width:1.00px;height:54.40px;background:rgba(255,255,255,.10);"></div>
<div class="r" style="left:1073.20px;top:772.90px;width:1.00px;height:51.80px;background:rgba(255,255,255,.13);"></div>
<div class="r" style="left:1073.20px;top:1042.60px;width:1.00px;height:54.40px;background:rgba(255,255,255,.10);"></div>
<div class="r" style="left:1103.40px;top:772.90px;width:1.00px;height:51.80px;background:rgba(255,255,255,.13);"></div>
<div class="r" style="left:1103.40px;top:1042.60px;width:1.00px;height:54.40px;background:rgba(255,255,255,.10);"></div>
<div class="r" style="left:1176.30px;top:772.90px;width:1.00px;height:51.80px;background:rgba(255,255,255,.13);"></div>
<div class="r" style="left:1176.30px;top:1042.60px;width:1.00px;height:54.40px;background:rgba(255,255,255,.10);"></div>
<div class="r" style="left:1309.10px;top:772.90px;width:1.00px;height:51.80px;background:rgba(255,255,255,.13);"></div>
<div class="r" style="left:1309.10px;top:1042.60px;width:1.00px;height:54.40px;background:rgba(255,255,255,.10);"></div>
<div class="r" style="left:1383.80px;top:772.90px;width:1.00px;height:51.80px;background:rgba(255,255,255,.13);"></div>
<div class="r" style="left:1383.80px;top:1042.60px;width:1.00px;height:54.40px;background:rgba(255,255,255,.10);"></div>
<div class="r" style="left:1487.10px;top:772.90px;width:1.00px;height:51.80px;background:rgba(255,255,255,.13);"></div>
<div class="r" style="left:1487.10px;top:1042.60px;width:1.00px;height:54.40px;background:rgba(255,255,255,.10);"></div>
<div class="r" style="left:1590.40px;top:772.90px;width:1.00px;height:51.80px;background:rgba(255,255,255,.13);"></div>
<div class="r" style="left:1590.40px;top:1042.60px;width:1.00px;height:54.40px;background:rgba(255,255,255,.10);"></div>
<div class="r" style="left:199.00px;top:1097.00px;width:1729.00px;height:51.80px;background:#5f8ab5;"></div>
<div class="t al b" style="left:211.60px;top:1110.22px;font-size:29.1px;color:#fff;"><span style="transform:scaleX(0.82)">DP CUENCA</span></div>
<div class="t al n" style="left:211.60px;top:1161.62px;font-size:29.1px;color:#000;"><span style="transform:scaleX(0.82)">De 1 a 1.000 h</span></div>
<div class="t ar n" style="left:572.40px;top:1161.62px;font-size:29.1px;color:#000;"><span style="transform:scaleX(0.82)">206</span></div>
<div class="t ar n" style="left:697.32px;top:1159.83px;font-size:32.75px;color:#000;"><span style="transform:scaleX(0.82)">21</span></div>
<div class="t ar n" style="left:856.72px;top:1159.83px;font-size:32.75px;color:#000;"><span style="transform:scaleX(0.82)">10,19</span></div>
<div class="t ar n" style="left:949.90px;top:1161.62px;font-size:29.1px;color:#000;"><span style="transform:scaleX(0.82)">47</span></div>
<div class="t ar n" style="left:1060.80px;top:1161.62px;font-size:29.1px;color:#000;"><span style="transform:scaleX(0.82)">22,82</span></div>
<div class="t ar n" style="left:1154.80px;top:1161.62px;font-size:29.1px;color:#000;"><span style="transform:scaleX(0.82)">159</span></div>
<div class="t ar n" style="left:1267.20px;top:1161.62px;font-size:29.1px;color:#000;"><span style="transform:scaleX(0.82)">77,18</span></div>
<div class="t ar n" style="left:1361.42px;top:1159.83px;font-size:32.75px;color:#000;"><span style="transform:scaleX(0.82)">18</span></div>
<div class="t ar n" style="left:1474.12px;top:1159.83px;font-size:32.75px;color:#000;"><span style="transform:scaleX(0.82)">8,74</span></div>
<div class="t ar n" style="left:1577.80px;top:1161.62px;font-size:29.1px;color:#000;"><span style="transform:scaleX(0.82)">38</span></div>
<div class="t ar n" style="left:1707.60px;top:1161.62px;font-size:29.1px;color:#000;"><span style="transform:scaleX(0.82)">18,45</span></div>
<div class="t ar n" style="left:1811.40px;top:1161.62px;font-size:29.1px;color:#000;"><span style="transform:scaleX(0.82)">168</span></div>
<div class="t ar n" style="left:1914.40px;top:1161.62px;font-size:29.1px;color:#000;"><span style="transform:scaleX(0.82)">81,55</span></div>
<div class="r" style="left:199.00px;top:1200.50px;width:1729.00px;height:2.10px;background:#0c3666;"></div>
<div class="r" style="left:899.30px;top:1200.50px;width:174.40px;height:3.70px;background:#002f5f;"></div>
<div class="r" style="left:1103.90px;top:1200.50px;width:176.50px;height:3.70px;background:#002f5f;"></div>
<div class="r" style="left:1516.30px;top:1200.50px;width:204.20px;height:3.70px;background:#002f5f;"></div>
<div class="r" style="left:1750.40px;top:1200.50px;width:177.60px;height:3.70px;background:#002f5f;"></div>
<div class="t al n" style="left:211.60px;top:1217.02px;font-size:29.1px;color:#000;"><span style="transform:scaleX(0.82)">De 1.001 a 5.000 h</span></div>
<div class="t ar n" style="left:572.40px;top:1217.02px;font-size:29.1px;color:#000;"><span style="transform:scaleX(0.82)">25</span></div>
<div class="t ar n" style="left:697.32px;top:1215.23px;font-size:32.75px;color:#000;"><span style="transform:scaleX(0.82)">1</span></div>
<div class="t ar n" style="left:856.72px;top:1215.23px;font-size:32.75px;color:#000;"><span style="transform:scaleX(0.82)">4,00</span></div>
<div class="t ar n" style="left:949.90px;top:1217.02px;font-size:29.1px;color:#000;"><span style="transform:scaleX(0.82)">9</span></div>
<div class="t ar n" style="left:1060.80px;top:1217.02px;font-size:29.1px;color:#000;"><span style="transform:scaleX(0.82)">36,00</span></div>
<div class="t ar n" style="left:1154.80px;top:1217.02px;font-size:29.1px;color:#000;"><span style="transform:scaleX(0.82)">16</span></div>
<div class="t ar n" style="left:1267.20px;top:1217.02px;font-size:29.1px;color:#000;"><span style="transform:scaleX(0.82)">64,00</span></div>
<div class="t ar n" style="left:1361.42px;top:1215.23px;font-size:32.75px;color:#000;"><span style="transform:scaleX(0.82)">4</span></div>
<div class="t ar n" style="left:1474.12px;top:1215.23px;font-size:32.75px;color:#000;"><span style="transform:scaleX(0.82)">16,00</span></div>
<div class="t ar n" style="left:1577.80px;top:1217.02px;font-size:29.1px;color:#000;"><span style="transform:scaleX(0.82)">7</span></div>
<div class="t ar n" style="left:1707.60px;top:1217.02px;font-size:29.1px;color:#000;"><span style="transform:scaleX(0.82)">28,00</span></div>
<div class="t ar n" style="left:1811.40px;top:1217.02px;font-size:29.1px;color:#000;"><span style="transform:scaleX(0.82)">18</span></div>
<div class="t ar n" style="left:1914.40px;top:1217.02px;font-size:29.1px;color:#000;"><span style="transform:scaleX(0.82)">72,00</span></div>
<div class="r" style="left:199.00px;top:1255.90px;width:1729.00px;height:2.10px;background:#0c3666;"></div>
<div class="r" style="left:899.30px;top:1255.90px;width:174.40px;height:3.70px;background:#002f5f;"></div>
<div class="r" style="left:1103.90px;top:1255.90px;width:176.50px;height:3.70px;background:#002f5f;"></div>
<div class="r" style="left:1516.30px;top:1255.90px;width:204.20px;height:3.70px;background:#002f5f;"></div>
<div class="r" style="left:1750.40px;top:1255.90px;width:177.60px;height:3.70px;background:#002f5f;"></div>
<div class="t al n" style="left:211.60px;top:1272.42px;font-size:29.1px;color:#000;"><span style="transform:scaleX(0.82)">De 5.001 a 20.000 h</span></div>
<div class="t ar n" style="left:572.40px;top:1272.42px;font-size:29.1px;color:#000;"><span style="transform:scaleX(0.82)">6</span></div>
<div class="t ar n" style="left:697.32px;top:1270.63px;font-size:32.75px;color:#000;"><span style="transform:scaleX(0.82)">4</span></div>
<div class="t ar n" style="left:856.72px;top:1270.63px;font-size:32.75px;color:#000;"><span style="transform:scaleX(0.82)">66,67</span></div>
<div class="t ar n" style="left:949.90px;top:1272.42px;font-size:29.1px;color:#000;"><span style="transform:scaleX(0.82)">4</span></div>
<div class="t ar n" style="left:1060.80px;top:1272.42px;font-size:29.1px;color:#000;"><span style="transform:scaleX(0.82)">66,67</span></div>
<div class="t ar n" style="left:1154.80px;top:1272.42px;font-size:29.1px;color:#000;"><span style="transform:scaleX(0.82)">2</span></div>
<div class="t ar n" style="left:1267.20px;top:1272.42px;font-size:29.1px;color:#000;"><span style="transform:scaleX(0.82)">33,33</span></div>
<div class="t ar n" style="left:1361.42px;top:1270.63px;font-size:32.75px;color:#000;"><span style="transform:scaleX(0.82)">2</span></div>
<div class="t ar n" style="left:1474.12px;top:1270.63px;font-size:32.75px;color:#000;"><span style="transform:scaleX(0.82)">33,33</span></div>
<div class="t ar n" style="left:1577.80px;top:1272.42px;font-size:29.1px;color:#000;"><span style="transform:scaleX(0.82)">4</span></div>
<div class="t ar n" style="left:1707.60px;top:1272.42px;font-size:29.1px;color:#000;"><span style="transform:scaleX(0.82)">66,67</span></div>
<div class="t ar n" style="left:1811.40px;top:1272.42px;font-size:29.1px;color:#000;"><span style="transform:scaleX(0.82)">2</span></div>
<div class="t ar n" style="left:1914.40px;top:1272.42px;font-size:29.1px;color:#000;"><span style="transform:scaleX(0.82)">33,33</span></div>
<div class="r" style="left:199.00px;top:1311.30px;width:1729.00px;height:2.10px;background:#0c3666;"></div>
<div class="r" style="left:899.30px;top:1311.30px;width:174.40px;height:3.70px;background:#002f5f;"></div>
<div class="r" style="left:1103.90px;top:1311.30px;width:176.50px;height:3.70px;background:#002f5f;"></div>
<div class="r" style="left:1516.30px;top:1311.30px;width:204.20px;height:3.70px;background:#002f5f;"></div>
<div class="r" style="left:1750.40px;top:1311.30px;width:177.60px;height:3.70px;background:#002f5f;"></div>
<div class="t al n" style="left:211.60px;top:1327.82px;font-size:29.1px;color:#000;"><span style="transform:scaleX(0.82)">Más de 20.000 h</span></div>
<div class="t ar n" style="left:572.40px;top:1327.82px;font-size:29.1px;color:#000;"><span style="transform:scaleX(0.82)">1</span></div>
<div class="t ar n" style="left:697.32px;top:1326.03px;font-size:32.75px;color:#000;"><span style="transform:scaleX(0.82)">1</span></div>
<div class="t ar n" style="left:856.72px;top:1326.03px;font-size:32.75px;color:#000;"><span style="transform:scaleX(0.82)">100,00</span></div>
<div class="t ar n" style="left:949.90px;top:1327.82px;font-size:29.1px;color:#000;"><span style="transform:scaleX(0.82)">1</span></div>
<div class="t ar n" style="left:1060.80px;top:1327.82px;font-size:29.1px;color:#000;"><span style="transform:scaleX(0.82)">100,00</span></div>
<div class="t ar n" style="left:1154.80px;top:1327.82px;font-size:29.1px;color:#000;"><span style="transform:scaleX(0.82)">0</span></div>
<div class="t ar n" style="left:1267.20px;top:1327.82px;font-size:29.1px;color:#000;"><span style="transform:scaleX(0.82)">0,00</span></div>
<div class="t ar n" style="left:1361.42px;top:1326.03px;font-size:32.75px;color:#000;"><span style="transform:scaleX(0.82)">1</span></div>
<div class="t ar n" style="left:1474.12px;top:1326.03px;font-size:32.75px;color:#000;"><span style="transform:scaleX(0.82)">100,00</span></div>
<div class="t ar n" style="left:1577.80px;top:1327.82px;font-size:29.1px;color:#000;"><span style="transform:scaleX(0.82)">1</span></div>
<div class="t ar n" style="left:1707.60px;top:1327.82px;font-size:29.1px;color:#000;"><span style="transform:scaleX(0.82)">100,00</span></div>
<div class="t ar n" style="left:1811.40px;top:1327.82px;font-size:29.1px;color:#000;"><span style="transform:scaleX(0.82)">0</span></div>
<div class="t ar n" style="left:1914.40px;top:1327.82px;font-size:29.1px;color:#000;"><span style="transform:scaleX(0.82)">0,00</span></div>
<div class="r" style="left:199.00px;top:1366.70px;width:1729.00px;height:55.30px;background:#002f5f;"></div>
<div class="r" style="left:199.00px;top:1366.70px;width:1729.00px;height:3.50px;background:#0c3666;"></div>
<div class="t al b" style="left:211.60px;top:1382.92px;font-size:29.1px;color:#fff;"><span style="transform:scaleX(0.82)">TOTAL</span></div>
<div class="t ar b" style="left:571.80px;top:1382.92px;font-size:29.1px;color:#fff;"><span style="transform:scaleX(0.82)">238</span></div>
<div class="t ar b" style="left:696.70px;top:1381.03px;font-size:32.75px;color:#fff;"><span style="transform:scaleX(0.82)">27</span></div>
<div class="t ar b" style="left:856.10px;top:1381.03px;font-size:32.75px;color:#fff;"><span style="transform:scaleX(0.82)">11,34</span></div>
<div class="t ar b" style="left:949.30px;top:1382.92px;font-size:29.1px;color:#fff;"><span style="transform:scaleX(0.82)">61</span></div>
<div class="t ar b" style="left:1060.20px;top:1382.92px;font-size:29.1px;color:#fff;"><span style="transform:scaleX(0.82)">25,63</span></div>
<div class="t ar b" style="left:1154.20px;top:1382.92px;font-size:29.1px;color:#fff;"><span style="transform:scaleX(0.82)">177</span></div>
<div class="t ar b" style="left:1266.60px;top:1382.92px;font-size:29.1px;color:#fff;"><span style="transform:scaleX(0.82)">74,37</span></div>
<div class="t ar b" style="left:1360.80px;top:1381.03px;font-size:32.75px;color:#fff;"><span style="transform:scaleX(0.82)">25</span></div>
<div class="t ar b" style="left:1473.50px;top:1381.03px;font-size:32.75px;color:#fff;"><span style="transform:scaleX(0.82)">10,50</span></div>
<div class="t ar b" style="left:1577.20px;top:1382.92px;font-size:29.1px;color:#fff;"><span style="transform:scaleX(0.82)">50</span></div>
<div class="t ar b" style="left:1707.00px;top:1382.92px;font-size:29.1px;color:#fff;"><span style="transform:scaleX(0.82)">21,01</span></div>
<div class="t ar b" style="left:1810.80px;top:1382.92px;font-size:29.1px;color:#fff;"><span style="transform:scaleX(0.82)">188</span></div>
<div class="t ar b" style="left:1913.80px;top:1382.92px;font-size:29.1px;color:#fff;"><span style="transform:scaleX(0.82)">78,99</span></div>
<div class="r" style="left:635.90px;top:1097.00px;width:1.00px;height:51.80px;background:rgba(255,255,255,.13);"></div>
<div class="r" style="left:635.90px;top:1366.70px;width:1.00px;height:55.30px;background:rgba(255,255,255,.10);"></div>
<div class="r" style="left:971.90px;top:1097.00px;width:1.00px;height:51.80px;background:rgba(255,255,255,.13);"></div>
<div class="r" style="left:971.90px;top:1366.70px;width:1.00px;height:55.30px;background:rgba(255,255,255,.10);"></div>
<div class="r" style="left:1073.20px;top:1097.00px;width:1.00px;height:51.80px;background:rgba(255,255,255,.13);"></div>
<div class="r" style="left:1073.20px;top:1366.70px;width:1.00px;height:55.30px;background:rgba(255,255,255,.10);"></div>
<div class="r" style="left:1103.40px;top:1097.00px;width:1.00px;height:51.80px;background:rgba(255,255,255,.13);"></div>
<div class="r" style="left:1103.40px;top:1366.70px;width:1.00px;height:55.30px;background:rgba(255,255,255,.10);"></div>
<div class="r" style="left:1176.30px;top:1097.00px;width:1.00px;height:51.80px;background:rgba(255,255,255,.13);"></div>
<div class="r" style="left:1176.30px;top:1366.70px;width:1.00px;height:55.30px;background:rgba(255,255,255,.10);"></div>
<div class="r" style="left:1309.10px;top:1097.00px;width:1.00px;height:51.80px;background:rgba(255,255,255,.13);"></div>
<div class="r" style="left:1309.10px;top:1366.70px;width:1.00px;height:55.30px;background:rgba(255,255,255,.10);"></div>
<div class="r" style="left:1383.80px;top:1097.00px;width:1.00px;height:51.80px;background:rgba(255,255,255,.13);"></div>
<div class="r" style="left:1383.80px;top:1366.70px;width:1.00px;height:55.30px;background:rgba(255,255,255,.10);"></div>
<div class="r" style="left:1487.10px;top:1097.00px;width:1.00px;height:51.80px;background:rgba(255,255,255,.13);"></div>
<div class="r" style="left:1487.10px;top:1366.70px;width:1.00px;height:55.30px;background:rgba(255,255,255,.10);"></div>
<div class="r" style="left:1590.40px;top:1097.00px;width:1.00px;height:51.80px;background:rgba(255,255,255,.13);"></div>
<div class="r" style="left:1590.40px;top:1366.70px;width:1.00px;height:55.30px;background:rgba(255,255,255,.10);"></div>
<div class="r" style="left:199.00px;top:1422.00px;width:1729.00px;height:51.80px;background:#5f8ab5;"></div>
<div class="t al b" style="left:211.60px;top:1435.22px;font-size:29.1px;color:#fff;"><span style="transform:scaleX(0.82)">DP GUADALAJARA</span></div>
<div class="t al n" style="left:211.60px;top:1486.62px;font-size:29.1px;color:#000;"><span style="transform:scaleX(0.82)">De 1 a 1.000 h</span></div>
<div class="t ar n" style="left:572.40px;top:1486.62px;font-size:29.1px;color:#000;"><span style="transform:scaleX(0.82)">255</span></div>
<div class="t ar n" style="left:697.32px;top:1484.83px;font-size:32.75px;color:#000;"><span style="transform:scaleX(0.82)">44</span></div>
<div class="t ar n" style="left:856.72px;top:1484.83px;font-size:32.75px;color:#000;"><span style="transform:scaleX(0.82)">17,25</span></div>
<div class="t ar n" style="left:949.90px;top:1486.62px;font-size:29.1px;color:#000;"><span style="transform:scaleX(0.82)">157</span></div>
<div class="t ar n" style="left:1060.80px;top:1486.62px;font-size:29.1px;color:#000;"><span style="transform:scaleX(0.82)">61,57</span></div>
<div class="t ar n" style="left:1154.80px;top:1486.62px;font-size:29.1px;color:#000;"><span style="transform:scaleX(0.82)">98</span></div>
<div class="t ar n" style="left:1267.20px;top:1486.62px;font-size:29.1px;color:#000;"><span style="transform:scaleX(0.82)">38,43</span></div>
<div class="t ar n" style="left:1361.42px;top:1484.83px;font-size:32.75px;color:#000;"><span style="transform:scaleX(0.82)">79</span></div>
<div class="t ar n" style="left:1474.12px;top:1484.83px;font-size:32.75px;color:#000;"><span style="transform:scaleX(0.82)">30,98</span></div>
<div class="t ar n" style="left:1577.80px;top:1486.62px;font-size:29.1px;color:#000;"><span style="transform:scaleX(0.82)">117</span></div>
<div class="t ar n" style="left:1707.60px;top:1486.62px;font-size:29.1px;color:#000;"><span style="transform:scaleX(0.82)">45,88</span></div>
<div class="t ar n" style="left:1811.40px;top:1486.62px;font-size:29.1px;color:#000;"><span style="transform:scaleX(0.82)">138</span></div>
<div class="t ar n" style="left:1914.40px;top:1486.62px;font-size:29.1px;color:#000;"><span style="transform:scaleX(0.82)">54,12</span></div>
<div class="r" style="left:199.00px;top:1525.50px;width:1729.00px;height:2.10px;background:#0c3666;"></div>
<div class="r" style="left:899.30px;top:1525.50px;width:174.40px;height:3.70px;background:#002f5f;"></div>
<div class="r" style="left:1103.90px;top:1525.50px;width:176.50px;height:3.70px;background:#002f5f;"></div>
<div class="r" style="left:1516.30px;top:1525.50px;width:204.20px;height:3.70px;background:#002f5f;"></div>
<div class="r" style="left:1750.40px;top:1525.50px;width:177.60px;height:3.70px;background:#002f5f;"></div>
<div class="t al n" style="left:211.60px;top:1542.02px;font-size:29.1px;color:#000;"><span style="transform:scaleX(0.82)">De 1.001 a 5.000 h</span></div>
<div class="t ar n" style="left:572.40px;top:1542.02px;font-size:29.1px;color:#000;"><span style="transform:scaleX(0.82)">24</span></div>
<div class="t ar n" style="left:697.32px;top:1540.23px;font-size:32.75px;color:#000;"><span style="transform:scaleX(0.82)">4</span></div>
<div class="t ar n" style="left:856.72px;top:1540.23px;font-size:32.75px;color:#000;"><span style="transform:scaleX(0.82)">16,67</span></div>
<div class="t ar n" style="left:949.90px;top:1542.02px;font-size:29.1px;color:#000;"><span style="transform:scaleX(0.82)">13</span></div>
<div class="t ar n" style="left:1060.80px;top:1542.02px;font-size:29.1px;color:#000;"><span style="transform:scaleX(0.82)">54,17</span></div>
<div class="t ar n" style="left:1154.80px;top:1542.02px;font-size:29.1px;color:#000;"><span style="transform:scaleX(0.82)">11</span></div>
<div class="t ar n" style="left:1267.20px;top:1542.02px;font-size:29.1px;color:#000;"><span style="transform:scaleX(0.82)">45,83</span></div>
<div class="t ar n" style="left:1361.42px;top:1540.23px;font-size:32.75px;color:#000;"><span style="transform:scaleX(0.82)">7</span></div>
<div class="t ar n" style="left:1474.12px;top:1540.23px;font-size:32.75px;color:#000;"><span style="transform:scaleX(0.82)">29,17</span></div>
<div class="t ar n" style="left:1577.80px;top:1542.02px;font-size:29.1px;color:#000;"><span style="transform:scaleX(0.82)">13</span></div>
<div class="t ar n" style="left:1707.60px;top:1542.02px;font-size:29.1px;color:#000;"><span style="transform:scaleX(0.82)">54,17</span></div>
<div class="t ar n" style="left:1811.40px;top:1542.02px;font-size:29.1px;color:#000;"><span style="transform:scaleX(0.82)">11</span></div>
<div class="t ar n" style="left:1914.40px;top:1542.02px;font-size:29.1px;color:#000;"><span style="transform:scaleX(0.82)">45,83</span></div>
<div class="r" style="left:199.00px;top:1580.90px;width:1729.00px;height:2.10px;background:#0c3666;"></div>
<div class="r" style="left:899.30px;top:1580.90px;width:174.40px;height:3.70px;background:#002f5f;"></div>
<div class="r" style="left:1103.90px;top:1580.90px;width:176.50px;height:3.70px;background:#002f5f;"></div>
<div class="r" style="left:1516.30px;top:1580.90px;width:204.20px;height:3.70px;background:#002f5f;"></div>
<div class="r" style="left:1750.40px;top:1580.90px;width:177.60px;height:3.70px;background:#002f5f;"></div>
<div class="t al n" style="left:211.60px;top:1597.42px;font-size:29.1px;color:#000;"><span style="transform:scaleX(0.82)">De 5.001 a 20.000 h</span></div>
<div class="t ar n" style="left:572.40px;top:1597.42px;font-size:29.1px;color:#000;"><span style="transform:scaleX(0.82)">7</span></div>
<div class="t ar n" style="left:697.32px;top:1595.63px;font-size:32.75px;color:#000;"><span style="transform:scaleX(0.82)">4</span></div>
<div class="t ar n" style="left:856.72px;top:1595.63px;font-size:32.75px;color:#000;"><span style="transform:scaleX(0.82)">57,14</span></div>
<div class="t ar n" style="left:949.90px;top:1597.42px;font-size:29.1px;color:#000;"><span style="transform:scaleX(0.82)">6</span></div>
<div class="t ar n" style="left:1060.80px;top:1597.42px;font-size:29.1px;color:#000;"><span style="transform:scaleX(0.82)">85,71</span></div>
<div class="t ar n" style="left:1154.80px;top:1597.42px;font-size:29.1px;color:#000;"><span style="transform:scaleX(0.82)">1</span></div>
<div class="t ar n" style="left:1267.20px;top:1597.42px;font-size:29.1px;color:#000;"><span style="transform:scaleX(0.82)">14,29</span></div>
<div class="t ar n" style="left:1361.42px;top:1595.63px;font-size:32.75px;color:#000;"><span style="transform:scaleX(0.82)">1</span></div>
<div class="t ar n" style="left:1474.12px;top:1595.63px;font-size:32.75px;color:#000;"><span style="transform:scaleX(0.82)">14,29</span></div>
<div class="t ar n" style="left:1577.80px;top:1597.42px;font-size:29.1px;color:#000;"><span style="transform:scaleX(0.82)">4</span></div>
<div class="t ar n" style="left:1707.60px;top:1597.42px;font-size:29.1px;color:#000;"><span style="transform:scaleX(0.82)">57,14</span></div>
<div class="t ar n" style="left:1811.40px;top:1597.42px;font-size:29.1px;color:#000;"><span style="transform:scaleX(0.82)">3</span></div>
<div class="t ar n" style="left:1914.40px;top:1597.42px;font-size:29.1px;color:#000;"><span style="transform:scaleX(0.82)">42,86</span></div>
<div class="r" style="left:199.00px;top:1636.30px;width:1729.00px;height:2.10px;background:#0c3666;"></div>
<div class="r" style="left:899.30px;top:1636.30px;width:174.40px;height:3.70px;background:#002f5f;"></div>
<div class="r" style="left:1103.90px;top:1636.30px;width:176.50px;height:3.70px;background:#002f5f;"></div>
<div class="r" style="left:1516.30px;top:1636.30px;width:204.20px;height:3.70px;background:#002f5f;"></div>
<div class="r" style="left:1750.40px;top:1636.30px;width:177.60px;height:3.70px;background:#002f5f;"></div>
<div class="t al n" style="left:211.60px;top:1652.82px;font-size:29.1px;color:#000;"><span style="transform:scaleX(0.82)">Más de 20.000 h</span></div>
<div class="t ar n" style="left:572.40px;top:1652.82px;font-size:29.1px;color:#000;"><span style="transform:scaleX(0.82)">2</span></div>
<div class="t ar n" style="left:697.32px;top:1651.03px;font-size:32.75px;color:#000;"><span style="transform:scaleX(0.82)">1</span></div>
<div class="t ar n" style="left:856.72px;top:1651.03px;font-size:32.75px;color:#000;"><span style="transform:scaleX(0.82)">50,00</span></div>
<div class="t ar n" style="left:949.90px;top:1652.82px;font-size:29.1px;color:#000;"><span style="transform:scaleX(0.82)">2</span></div>
<div class="t ar n" style="left:1060.80px;top:1652.82px;font-size:29.1px;color:#000;"><span style="transform:scaleX(0.82)">100,00</span></div>
<div class="t ar n" style="left:1154.80px;top:1652.82px;font-size:29.1px;color:#000;"><span style="transform:scaleX(0.82)">0</span></div>
<div class="t ar n" style="left:1267.20px;top:1652.82px;font-size:29.1px;color:#000;"><span style="transform:scaleX(0.82)">0,00</span></div>
<div class="t ar n" style="left:1361.42px;top:1651.03px;font-size:32.75px;color:#000;"><span style="transform:scaleX(0.82)">1</span></div>
<div class="t ar n" style="left:1474.12px;top:1651.03px;font-size:32.75px;color:#000;"><span style="transform:scaleX(0.82)">50,00</span></div>
<div class="t ar n" style="left:1577.80px;top:1652.82px;font-size:29.1px;color:#000;"><span style="transform:scaleX(0.82)">2</span></div>
<div class="t ar n" style="left:1707.60px;top:1652.82px;font-size:29.1px;color:#000;"><span style="transform:scaleX(0.82)">100,00</span></div>
<div class="t ar n" style="left:1811.40px;top:1652.82px;font-size:29.1px;color:#000;"><span style="transform:scaleX(0.82)">0</span></div>
<div class="t ar n" style="left:1914.40px;top:1652.82px;font-size:29.1px;color:#000;"><span style="transform:scaleX(0.82)">0,00</span></div>
<div class="r" style="left:199.00px;top:1691.70px;width:1729.00px;height:55.30px;background:#002f5f;"></div>
<div class="r" style="left:199.00px;top:1691.70px;width:1729.00px;height:3.50px;background:#0c3666;"></div>
<div class="t al b" style="left:211.60px;top:1707.92px;font-size:29.1px;color:#fff;"><span style="transform:scaleX(0.82)">TOTAL</span></div>
<div class="t ar b" style="left:571.80px;top:1707.92px;font-size:29.1px;color:#fff;"><span style="transform:scaleX(0.82)">288</span></div>
<div class="t ar b" style="left:696.70px;top:1706.03px;font-size:32.75px;color:#fff;"><span style="transform:scaleX(0.82)">53</span></div>
<div class="t ar b" style="left:856.10px;top:1706.03px;font-size:32.75px;color:#fff;"><span style="transform:scaleX(0.82)">18,40</span></div>
<div class="t ar b" style="left:949.30px;top:1707.92px;font-size:29.1px;color:#fff;"><span style="transform:scaleX(0.82)">178</span></div>
<div class="t ar b" style="left:1060.20px;top:1707.92px;font-size:29.1px;color:#fff;"><span style="transform:scaleX(0.82)">61,81</span></div>
<div class="t ar b" style="left:1154.20px;top:1707.92px;font-size:29.1px;color:#fff;"><span style="transform:scaleX(0.82)">110</span></div>
<div class="t ar b" style="left:1266.60px;top:1707.92px;font-size:29.1px;color:#fff;"><span style="transform:scaleX(0.82)">38,19</span></div>
<div class="t ar b" style="left:1360.80px;top:1706.03px;font-size:32.75px;color:#fff;"><span style="transform:scaleX(0.82)">88</span></div>
<div class="t ar b" style="left:1473.50px;top:1706.03px;font-size:32.75px;color:#fff;"><span style="transform:scaleX(0.82)">30,56</span></div>
<div class="t ar b" style="left:1577.20px;top:1707.92px;font-size:29.1px;color:#fff;"><span style="transform:scaleX(0.82)">136</span></div>
<div class="t ar b" style="left:1707.00px;top:1707.92px;font-size:29.1px;color:#fff;"><span style="transform:scaleX(0.82)">47,22</span></div>
<div class="t ar b" style="left:1810.80px;top:1707.92px;font-size:29.1px;color:#fff;"><span style="transform:scaleX(0.82)">152</span></div>
<div class="t ar b" style="left:1913.80px;top:1707.92px;font-size:29.1px;color:#fff;"><span style="transform:scaleX(0.82)">52,78</span></div>
<div class="r" style="left:635.90px;top:1422.00px;width:1.00px;height:51.80px;background:rgba(255,255,255,.13);"></div>
<div class="r" style="left:635.90px;top:1691.70px;width:1.00px;height:55.30px;background:rgba(255,255,255,.10);"></div>
<div class="r" style="left:971.90px;top:1422.00px;width:1.00px;height:51.80px;background:rgba(255,255,255,.13);"></div>
<div class="r" style="left:971.90px;top:1691.70px;width:1.00px;height:55.30px;background:rgba(255,255,255,.10);"></div>
<div class="r" style="left:1073.20px;top:1422.00px;width:1.00px;height:51.80px;background:rgba(255,255,255,.13);"></div>
<div class="r" style="left:1073.20px;top:1691.70px;width:1.00px;height:55.30px;background:rgba(255,255,255,.10);"></div>
<div class="r" style="left:1103.40px;top:1422.00px;width:1.00px;height:51.80px;background:rgba(255,255,255,.13);"></div>
<div class="r" style="left:1103.40px;top:1691.70px;width:1.00px;height:55.30px;background:rgba(255,255,255,.10);"></div>
<div class="r" style="left:1176.30px;top:1422.00px;width:1.00px;height:51.80px;background:rgba(255,255,255,.13);"></div>
<div class="r" style="left:1176.30px;top:1691.70px;width:1.00px;height:55.30px;background:rgba(255,255,255,.10);"></div>
<div class="r" style="left:1309.10px;top:1422.00px;width:1.00px;height:51.80px;background:rgba(255,255,255,.13);"></div>
<div class="r" style="left:1309.10px;top:1691.70px;width:1.00px;height:55.30px;background:rgba(255,255,255,.10);"></div>
<div class="r" style="left:1383.80px;top:1422.00px;width:1.00px;height:51.80px;background:rgba(255,255,255,.13);"></div>
<div class="r" style="left:1383.80px;top:1691.70px;width:1.00px;height:55.30px;background:rgba(255,255,255,.10);"></div>
<div class="r" style="left:1487.10px;top:1422.00px;width:1.00px;height:51.80px;background:rgba(255,255,255,.13);"></div>
<div class="r" style="left:1487.10px;top:1691.70px;width:1.00px;height:55.30px;background:rgba(255,255,255,.10);"></div>
<div class="r" style="left:1590.40px;top:1422.00px;width:1.00px;height:51.80px;background:rgba(255,255,255,.13);"></div>
<div class="r" style="left:1590.40px;top:1691.70px;width:1.00px;height:55.30px;background:rgba(255,255,255,.10);"></div>
<div class="r" style="left:199.00px;top:1747.00px;width:1729.00px;height:51.80px;background:#5f8ab5;"></div>
<div class="t al b" style="left:211.60px;top:1760.22px;font-size:29.1px;color:#fff;"><span style="transform:scaleX(0.82)">DP TOLEDO</span></div>
<div class="t al n" style="left:211.60px;top:1811.62px;font-size:29.1px;color:#000;"><span style="transform:scaleX(0.82)">De 1 a 1.000 h</span></div>
<div class="t ar n" style="left:572.40px;top:1811.62px;font-size:29.1px;color:#000;"><span style="transform:scaleX(0.82)">87</span></div>
<div class="t ar n" style="left:697.32px;top:1809.83px;font-size:32.75px;color:#000;"><span style="transform:scaleX(0.82)">17</span></div>
<div class="t ar n" style="left:856.72px;top:1809.83px;font-size:32.75px;color:#000;"><span style="transform:scaleX(0.82)">19,54</span></div>
<div class="t ar n" style="left:949.90px;top:1811.62px;font-size:29.1px;color:#000;"><span style="transform:scaleX(0.82)">38</span></div>
<div class="t ar n" style="left:1060.80px;top:1811.62px;font-size:29.1px;color:#000;"><span style="transform:scaleX(0.82)">43,68</span></div>
<div class="t ar n" style="left:1154.80px;top:1811.62px;font-size:29.1px;color:#000;"><span style="transform:scaleX(0.82)">49</span></div>
<div class="t ar n" style="left:1267.20px;top:1811.62px;font-size:29.1px;color:#000;"><span style="transform:scaleX(0.82)">56,32</span></div>
<div class="t ar n" style="left:1361.42px;top:1809.83px;font-size:32.75px;color:#000;"><span style="transform:scaleX(0.82)">21</span></div>
<div class="t ar n" style="left:1474.12px;top:1809.83px;font-size:32.75px;color:#000;"><span style="transform:scaleX(0.82)">24,14</span></div>
<div class="t ar n" style="left:1577.80px;top:1811.62px;font-size:29.1px;color:#000;"><span style="transform:scaleX(0.82)">32</span></div>
<div class="t ar n" style="left:1707.60px;top:1811.62px;font-size:29.1px;color:#000;"><span style="transform:scaleX(0.82)">36,78</span></div>
<div class="t ar n" style="left:1811.40px;top:1811.62px;font-size:29.1px;color:#000;"><span style="transform:scaleX(0.82)">55</span></div>
<div class="t ar n" style="left:1914.40px;top:1811.62px;font-size:29.1px;color:#000;"><span style="transform:scaleX(0.82)">63,22</span></div>
<div class="r" style="left:199.00px;top:1850.50px;width:1729.00px;height:2.10px;background:#0c3666;"></div>
<div class="r" style="left:899.30px;top:1850.50px;width:174.40px;height:3.70px;background:#002f5f;"></div>
<div class="r" style="left:1103.90px;top:1850.50px;width:176.50px;height:3.70px;background:#002f5f;"></div>
<div class="r" style="left:1516.30px;top:1850.50px;width:204.20px;height:3.70px;background:#002f5f;"></div>
<div class="r" style="left:1750.40px;top:1850.50px;width:177.60px;height:3.70px;background:#002f5f;"></div>
<div class="t al n" style="left:211.60px;top:1867.02px;font-size:29.1px;color:#000;"><span style="transform:scaleX(0.82)">De 1.001 a 5.000 h</span></div>
<div class="t ar n" style="left:572.40px;top:1867.02px;font-size:29.1px;color:#000;"><span style="transform:scaleX(0.82)">86</span></div>
<div class="t ar n" style="left:697.32px;top:1865.23px;font-size:32.75px;color:#000;"><span style="transform:scaleX(0.82)">20</span></div>
<div class="t ar n" style="left:856.72px;top:1865.23px;font-size:32.75px;color:#000;"><span style="transform:scaleX(0.82)">23,26</span></div>
<div class="t ar n" style="left:949.90px;top:1867.02px;font-size:29.1px;color:#000;"><span style="transform:scaleX(0.82)">50</span></div>
<div class="t ar n" style="left:1060.80px;top:1867.02px;font-size:29.1px;color:#000;"><span style="transform:scaleX(0.82)">58,14</span></div>
<div class="t ar n" style="left:1154.80px;top:1867.02px;font-size:29.1px;color:#000;"><span style="transform:scaleX(0.82)">36</span></div>
<div class="t ar n" style="left:1267.20px;top:1867.02px;font-size:29.1px;color:#000;"><span style="transform:scaleX(0.82)">41,86</span></div>
<div class="t ar n" style="left:1361.42px;top:1865.23px;font-size:32.75px;color:#000;"><span style="transform:scaleX(0.82)">31</span></div>
<div class="t ar n" style="left:1474.12px;top:1865.23px;font-size:32.75px;color:#000;"><span style="transform:scaleX(0.82)">36,05</span></div>
<div class="t ar n" style="left:1577.80px;top:1867.02px;font-size:29.1px;color:#000;"><span style="transform:scaleX(0.82)">49</span></div>
<div class="t ar n" style="left:1707.60px;top:1867.02px;font-size:29.1px;color:#000;"><span style="transform:scaleX(0.82)">56,98</span></div>
<div class="t ar n" style="left:1811.40px;top:1867.02px;font-size:29.1px;color:#000;"><span style="transform:scaleX(0.82)">37</span></div>
<div class="t ar n" style="left:1914.40px;top:1867.02px;font-size:29.1px;color:#000;"><span style="transform:scaleX(0.82)">43,02</span></div>
<div class="r" style="left:199.00px;top:1905.90px;width:1729.00px;height:2.10px;background:#0c3666;"></div>
<div class="r" style="left:899.30px;top:1905.90px;width:174.40px;height:3.70px;background:#002f5f;"></div>
<div class="r" style="left:1103.90px;top:1905.90px;width:176.50px;height:3.70px;background:#002f5f;"></div>
<div class="r" style="left:1516.30px;top:1905.90px;width:204.20px;height:3.70px;background:#002f5f;"></div>
<div class="r" style="left:1750.40px;top:1905.90px;width:177.60px;height:3.70px;background:#002f5f;"></div>
<div class="t al n" style="left:211.60px;top:1922.42px;font-size:29.1px;color:#000;"><span style="transform:scaleX(0.82)">De 5.001 a 20.000 h</span></div>
<div class="t ar n" style="left:572.40px;top:1922.42px;font-size:29.1px;color:#000;"><span style="transform:scaleX(0.82)">27</span></div>
<div class="t ar n" style="left:697.32px;top:1920.63px;font-size:32.75px;color:#000;"><span style="transform:scaleX(0.82)">8</span></div>
<div class="t ar n" style="left:856.72px;top:1920.63px;font-size:32.75px;color:#000;"><span style="transform:scaleX(0.82)">29,63</span></div>
<div class="t ar n" style="left:949.90px;top:1922.42px;font-size:29.1px;color:#000;"><span style="transform:scaleX(0.82)">14</span></div>
<div class="t ar n" style="left:1060.80px;top:1922.42px;font-size:29.1px;color:#000;"><span style="transform:scaleX(0.82)">51,85</span></div>
<div class="t ar n" style="left:1154.80px;top:1922.42px;font-size:29.1px;color:#000;"><span style="transform:scaleX(0.82)">13</span></div>
<div class="t ar n" style="left:1267.20px;top:1922.42px;font-size:29.1px;color:#000;"><span style="transform:scaleX(0.82)">48,15</span></div>
<div class="t ar n" style="left:1361.42px;top:1920.63px;font-size:32.75px;color:#000;"><span style="transform:scaleX(0.82)">9</span></div>
<div class="t ar n" style="left:1474.12px;top:1920.63px;font-size:32.75px;color:#000;"><span style="transform:scaleX(0.82)">33,33</span></div>
<div class="t ar n" style="left:1577.80px;top:1922.42px;font-size:29.1px;color:#000;"><span style="transform:scaleX(0.82)">12</span></div>
<div class="t ar n" style="left:1707.60px;top:1922.42px;font-size:29.1px;color:#000;"><span style="transform:scaleX(0.82)">44,44</span></div>
<div class="t ar n" style="left:1811.40px;top:1922.42px;font-size:29.1px;color:#000;"><span style="transform:scaleX(0.82)">15</span></div>
<div class="t ar n" style="left:1914.40px;top:1922.42px;font-size:29.1px;color:#000;"><span style="transform:scaleX(0.82)">55,56</span></div>
<div class="r" style="left:199.00px;top:1961.30px;width:1729.00px;height:2.10px;background:#0c3666;"></div>
<div class="r" style="left:899.30px;top:1961.30px;width:174.40px;height:3.70px;background:#002f5f;"></div>
<div class="r" style="left:1103.90px;top:1961.30px;width:176.50px;height:3.70px;background:#002f5f;"></div>
<div class="r" style="left:1516.30px;top:1961.30px;width:204.20px;height:3.70px;background:#002f5f;"></div>
<div class="r" style="left:1750.40px;top:1961.30px;width:177.60px;height:3.70px;background:#002f5f;"></div>
<div class="t al n" style="left:211.60px;top:1977.82px;font-size:29.1px;color:#000;"><span style="transform:scaleX(0.82)">Más de 20.000 h</span></div>
<div class="t ar n" style="left:572.40px;top:1977.82px;font-size:29.1px;color:#000;"><span style="transform:scaleX(0.82)">4</span></div>
<div class="t ar n" style="left:697.32px;top:1976.03px;font-size:32.75px;color:#000;"><span style="transform:scaleX(0.82)">1</span></div>
<div class="t ar n" style="left:856.72px;top:1976.03px;font-size:32.75px;color:#000;"><span style="transform:scaleX(0.82)">25,00</span></div>
<div class="t ar n" style="left:949.90px;top:1977.82px;font-size:29.1px;color:#000;"><span style="transform:scaleX(0.82)">2</span></div>
<div class="t ar n" style="left:1060.80px;top:1977.82px;font-size:29.1px;color:#000;"><span style="transform:scaleX(0.82)">50,00</span></div>
<div class="t ar n" style="left:1154.80px;top:1977.82px;font-size:29.1px;color:#000;"><span style="transform:scaleX(0.82)">2</span></div>
<div class="t ar n" style="left:1267.20px;top:1977.82px;font-size:29.1px;color:#000;"><span style="transform:scaleX(0.82)">50,00</span></div>
<div class="t ar n" style="left:1361.42px;top:1976.03px;font-size:32.75px;color:#000;"><span style="transform:scaleX(0.82)">1</span></div>
<div class="t ar n" style="left:1474.12px;top:1976.03px;font-size:32.75px;color:#000;"><span style="transform:scaleX(0.82)">25,00</span></div>
<div class="t ar n" style="left:1577.80px;top:1977.82px;font-size:29.1px;color:#000;"><span style="transform:scaleX(0.82)">2</span></div>
<div class="t ar n" style="left:1707.60px;top:1977.82px;font-size:29.1px;color:#000;"><span style="transform:scaleX(0.82)">50,00</span></div>
<div class="t ar n" style="left:1811.40px;top:1977.82px;font-size:29.1px;color:#000;"><span style="transform:scaleX(0.82)">2</span></div>
<div class="t ar n" style="left:1914.40px;top:1977.82px;font-size:29.1px;color:#000;"><span style="transform:scaleX(0.82)">50,00</span></div>
<div class="r" style="left:199.00px;top:2016.70px;width:1729.00px;height:55.00px;background:#002f5f;"></div>
<div class="r" style="left:199.00px;top:2016.70px;width:1729.00px;height:3.50px;background:#0c3666;"></div>
<div class="t al b" style="left:211.60px;top:2032.92px;font-size:29.1px;color:#fff;"><span style="transform:scaleX(0.82)">TOTAL</span></div>
<div class="t ar b" style="left:571.80px;top:2032.92px;font-size:29.1px;color:#fff;"><span style="transform:scaleX(0.82)">204</span></div>
<div class="t ar b" style="left:696.70px;top:2031.03px;font-size:32.75px;color:#fff;"><span style="transform:scaleX(0.82)">46</span></div>
<div class="t ar b" style="left:856.10px;top:2031.03px;font-size:32.75px;color:#fff;"><span style="transform:scaleX(0.82)">22,55</span></div>
<div class="t ar b" style="left:949.30px;top:2032.92px;font-size:29.1px;color:#fff;"><span style="transform:scaleX(0.82)">104</span></div>
<div class="t ar b" style="left:1060.20px;top:2032.92px;font-size:29.1px;color:#fff;"><span style="transform:scaleX(0.82)">50,98</span></div>
<div class="t ar b" style="left:1154.20px;top:2032.92px;font-size:29.1px;color:#fff;"><span style="transform:scaleX(0.82)">100</span></div>
<div class="t ar b" style="left:1266.60px;top:2032.92px;font-size:29.1px;color:#fff;"><span style="transform:scaleX(0.82)">49,02</span></div>
<div class="t ar b" style="left:1360.80px;top:2031.03px;font-size:32.75px;color:#fff;"><span style="transform:scaleX(0.82)">62</span></div>
<div class="t ar b" style="left:1473.50px;top:2031.03px;font-size:32.75px;color:#fff;"><span style="transform:scaleX(0.82)">30,39</span></div>
<div class="t ar b" style="left:1577.20px;top:2032.92px;font-size:29.1px;color:#fff;"><span style="transform:scaleX(0.82)">95</span></div>
<div class="t ar b" style="left:1707.00px;top:2032.92px;font-size:29.1px;color:#fff;"><span style="transform:scaleX(0.82)">46,57</span></div>
<div class="t ar b" style="left:1810.80px;top:2032.92px;font-size:29.1px;color:#fff;"><span style="transform:scaleX(0.82)">109</span></div>
<div class="t ar b" style="left:1913.80px;top:2032.92px;font-size:29.1px;color:#fff;"><span style="transform:scaleX(0.82)">53,43</span></div>
<div class="r" style="left:635.90px;top:1747.00px;width:1.00px;height:51.80px;background:rgba(255,255,255,.13);"></div>
<div class="r" style="left:635.90px;top:2016.70px;width:1.00px;height:55.00px;background:rgba(255,255,255,.10);"></div>
<div class="r" style="left:971.90px;top:1747.00px;width:1.00px;height:51.80px;background:rgba(255,255,255,.13);"></div>
<div class="r" style="left:971.90px;top:2016.70px;width:1.00px;height:55.00px;background:rgba(255,255,255,.10);"></div>
<div class="r" style="left:1073.20px;top:1747.00px;width:1.00px;height:51.80px;background:rgba(255,255,255,.13);"></div>
<div class="r" style="left:1073.20px;top:2016.70px;width:1.00px;height:55.00px;background:rgba(255,255,255,.10);"></div>
<div class="r" style="left:1103.40px;top:1747.00px;width:1.00px;height:51.80px;background:rgba(255,255,255,.13);"></div>
<div class="r" style="left:1103.40px;top:2016.70px;width:1.00px;height:55.00px;background:rgba(255,255,255,.10);"></div>
<div class="r" style="left:1176.30px;top:1747.00px;width:1.00px;height:51.80px;background:rgba(255,255,255,.13);"></div>
<div class="r" style="left:1176.30px;top:2016.70px;width:1.00px;height:55.00px;background:rgba(255,255,255,.10);"></div>
<div class="r" style="left:1309.10px;top:1747.00px;width:1.00px;height:51.80px;background:rgba(255,255,255,.13);"></div>
<div class="r" style="left:1309.10px;top:2016.70px;width:1.00px;height:55.00px;background:rgba(255,255,255,.10);"></div>
<div class="r" style="left:1383.80px;top:1747.00px;width:1.00px;height:51.80px;background:rgba(255,255,255,.13);"></div>
<div class="r" style="left:1383.80px;top:2016.70px;width:1.00px;height:55.00px;background:rgba(255,255,255,.10);"></div>
<div class="r" style="left:1487.10px;top:1747.00px;width:1.00px;height:51.80px;background:rgba(255,255,255,.13);"></div>
<div class="r" style="left:1487.10px;top:2016.70px;width:1.00px;height:55.00px;background:rgba(255,255,255,.10);"></div>
<div class="r" style="left:1590.40px;top:1747.00px;width:1.00px;height:51.80px;background:rgba(255,255,255,.13);"></div>
<div class="r" style="left:1590.40px;top:2016.70px;width:1.00px;height:55.00px;background:rgba(255,255,255,.10);"></div>
<div class="r" style="left:635.90px;top:289.20px;width:1.00px;height:156.80px;background:rgba(255,255,255,.10);"></div>
<div class="r" style="left:971.90px;top:413.40px;width:1.00px;height:32.60px;background:rgba(255,255,255,.10);"></div>
<div class="r" style="left:1073.20px;top:344.30px;width:1.00px;height:101.70px;background:rgba(255,255,255,.10);"></div>
<div class="r" style="left:1103.40px;top:344.30px;width:1.00px;height:101.70px;background:rgba(255,255,255,.10);"></div>
<div class="r" style="left:1279.90px;top:289.20px;width:1.00px;height:55.10px;background:rgba(255,255,255,.10);"></div>
<div class="r" style="left:1309.10px;top:289.20px;width:1.00px;height:156.80px;background:rgba(255,255,255,.10);"></div>
<div class="r" style="left:1383.80px;top:413.40px;width:1.00px;height:32.60px;background:rgba(255,255,255,.10);"></div>
<div class="r" style="left:1487.10px;top:344.30px;width:1.00px;height:101.70px;background:rgba(255,255,255,.10);"></div>
<div class="r" style="left:1590.40px;top:413.40px;width:1.00px;height:32.60px;background:rgba(255,255,255,.10);"></div>
<div class="t al n" style="left:211.60px;top:2082.23px;font-size:32.75px;color:#000;"><span style="transform:scaleX(0.82)">Fuente: Plataforma de Rendición de Cuentas de las Entidades Locales.</span></div>
</body></html>
